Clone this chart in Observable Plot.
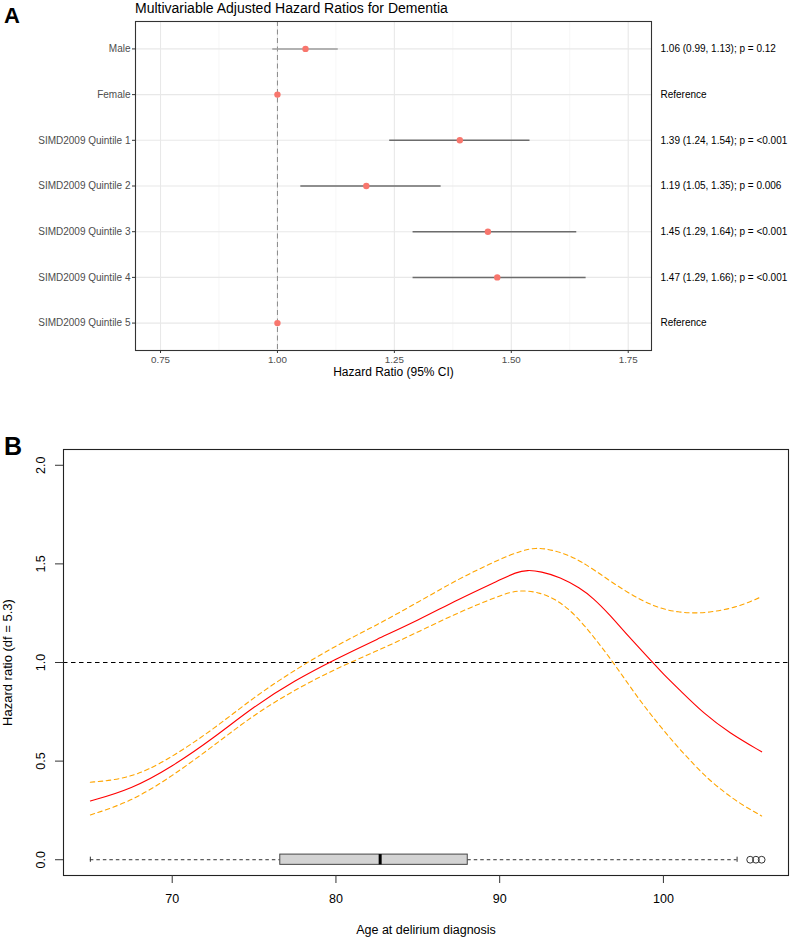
<!DOCTYPE html>
<html>
<head>
<meta charset="utf-8">
<script src="https://cdn.jsdelivr.net/npm/d3@7"></script>
<script src="https://cdn.jsdelivr.net/npm/@observablehq/plot@0.6"></script>
<style>
  body { margin: 0; background: #fff; }
  #wrap { position: relative; width: 792px; height: 942px; overflow: hidden; background: #fff;
          font-family: "Liberation Sans", Arial, Helvetica, sans-serif; color: #000; }
  .abs { position: absolute; white-space: nowrap; }
  .letter { font-weight: bold; line-height: 1; }
</style>
</head>
<body>
<div id="wrap">
  <div id="chartA" class="abs" style="left:0;top:0"></div>
  <div id="chartB" class="abs" style="left:0;top:400px"></div>
  <div class="abs letter" style="left:4px;top:5px;font-size:22px">A</div>
  <div class="abs" style="left:135px;top:1px;font-size:14px;line-height:1">Multivariable Adjusted Hazard Ratios for Dementia</div>
  <div class="abs letter" style="left:4px;top:434px;font-size:25px">B</div>
</div>
<script>
// ---------- Panel A data ----------
const rowLabels = ["Male", "Female", "SIMD2009 Quintile 1", "SIMD2009 Quintile 2",
                   "SIMD2009 Quintile 3", "SIMD2009 Quintile 4", "SIMD2009 Quintile 5"];
const estimates = [1.06, 1.00, 1.39, 1.19, 1.45, 1.47, 1.00];
const lowerCI   = [0.99, null, 1.24, 1.05, 1.29, 1.29, null];
const upperCI   = [1.13, null, 1.54, 1.35, 1.64, 1.66, null];
const annotations = ["1.06 (0.99, 1.13); p = 0.12", "Reference",
                     "1.39 (1.24, 1.54); p = <0.001", "1.19 (1.05, 1.35); p = 0.006",
                     "1.45 (1.29, 1.64); p = <0.001", "1.47 (1.29, 1.66); p = <0.001", "Reference"];
const hrTicks = [0.75, 1.00, 1.25, 1.50, 1.75];
const hrMinorTicks = [0.875, 1.125, 1.375, 1.625];

// ---------- Panel B data ----------
const hrAges   = [65, 67.5, 70, 72.5, 75, 77.5, 80, 82.5, 85, 87.5, 90, 91, 91.7, 92.5, 93.7, 94.9, 95.7, 96.75, 97.8, 99.35, 100, 100.9, 102.5, 104, 106];
const hrValues = [0.298, 0.357, 0.472, 0.615, 0.778, 0.910, 1.018, 1.118, 1.213, 1.322, 1.418, 1.458, 1.469, 1.462, 1.433, 1.378, 1.328, 1.240, 1.138, 1.000, 0.940, 0.868, 0.738, 0.645, 0.547];
const upperAges   = [65, 66.3, 67.5, 68.5, 70, 72.5, 75, 77.5, 80, 82.5, 85, 87.5, 90, 91.3, 92.2, 93.2, 94.3, 95, 95.8, 96.8, 97.8, 98.9, 99.9, 100.9, 101.9, 102.9, 104, 105, 106];
const upperValues = [0.393, 0.402, 0.424, 0.455, 0.522, 0.660, 0.825, 0.963, 1.086, 1.190, 1.305, 1.425, 1.524, 1.566, 1.583, 1.572, 1.541, 1.510, 1.468, 1.410, 1.356, 1.305, 1.272, 1.255, 1.250, 1.255, 1.272, 1.297, 1.334];
const lowerAges   = [65, 67.5, 70, 72.5, 75, 77.5, 80, 82.5, 85, 87.5, 90, 91.1, 92.5, 93.65, 94.66, 95.68, 96.7, 97.7, 98.7, 99.75, 100.77, 101.8, 102.8, 103.8, 104.8, 106];
const lowerValues = [0.227, 0.295, 0.424, 0.576, 0.736, 0.862, 0.969, 1.058, 1.154, 1.255, 1.339, 1.369, 1.356, 1.310, 1.238, 1.137, 1.027, 0.909, 0.792, 0.682, 0.581, 0.488, 0.404, 0.337, 0.278, 0.222];
const ageBox = {whiskerLow: 65, q1: 76.6, median: 82.7, q3: 88.05, whiskerHigh: 104.5};
const ageOutliers = [105.3, 105.65, 106];
const ageTicks = [70, 80, 90, 100];
const ratioTicks = [0.0, 0.5, 1.0, 1.5, 2.0];

// ---------- Panel A ----------
const rows = rowLabels.map((label, i) => ({
  label, est: estimates[i], lo: lowerCI[i], hi: upperCI[i], note: annotations[i]
}));
const fmt2 = d3.format(".2f");

const plotA = Plot.plot({
  width: 792, height: 392,
  marginLeft: 135, marginRight: 141, marginTop: 21, marginBottom: 42,
  style: { fontFamily: "Liberation Sans, Arial, sans-serif", fontSize: "9.8px", background: "white", overflow: "visible" },
  x: { domain: [0.6965, 1.7998], label: null },
  y: { type: "point", domain: rowLabels, padding: 0.6, round: false, label: null },
  marks: [
    Plot.ruleX(hrMinorTicks, { x: d => d, stroke: "#f0f0f0", strokeWidth: 0.6 }),
    Plot.ruleX(hrTicks, { x: d => d, stroke: "#e8e8e8", strokeWidth: 1.1 }),
    Plot.ruleY(rowLabels, { y: d => d, stroke: "#e8e8e8", strokeWidth: 1.1 }),
    Plot.ruleX([1], { x: d => d, stroke: "#8a8a8a", strokeWidth: 1, strokeDasharray: "5,3.5" }),
    Plot.ruleY(rows.filter(d => d.lo != null), {
      y: "label", x1: "lo", x2: "hi",
      stroke: d => (d.lo > 1 ? "#6c6c6c" : "#9c9c9c"), strokeWidth: 1.5
    }),
    Plot.dot(rows, { x: "est", y: "label", r: 3.2, fill: "#F8766D", stroke: "none" }),
    Plot.frame({ stroke: "#333", strokeWidth: 1.1 }),
    Plot.axisX(hrTicks, { tickSize: 3, tickPadding: 3, stroke: "#333", fill: "#4d4d4d", tickFormat: fmt2, label: null, fontSize: 9.8 }),
    Plot.axisY(rowLabels, { tickSize: 3, tickPadding: 2, stroke: "#333", fill: "#4d4d4d", label: null, fontSize: 10 }),
    Plot.text(rows, { y: "label", text: "note", frameAnchor: "right", dx: 9, textAnchor: "start", fill: "#000", fontSize: 10 }),
    Plot.text(["Hazard Ratio (95% CI)"], { text: d => d, frameAnchor: "bottom", dy: 25, fill: "#000", fontSize: 12 })
  ]
});
document.getElementById("chartA").appendChild(plotA);

// ---------- Panel B ----------
const hrLine = hrAges.map((a, i) => ({ age: a, v: hrValues[i] }));
const upLine = upperAges.map((a, i) => ({ age: a, v: upperValues[i] }));
const loLine = lowerAges.map((a, i) => ({ age: a, v: lowerValues[i] }));
const whiskers = [
  { a: ageBox.whiskerLow, b: ageBox.q1 },
  { a: ageBox.q3, b: ageBox.whiskerHigh }
];
const fmt1 = d3.format(".1f");

const plotB = Plot.plot({
  width: 792, height: 542,
  marginLeft: 63, marginRight: 4, marginTop: 49, marginBottom: 67,
  style: { fontFamily: "Liberation Sans, Arial, sans-serif", fontSize: "12.5px", background: "white", overflow: "visible" },
  x: { domain: [63.36, 107.64], label: null },
  y: { domain: [-0.08, 2.08], label: null },
  marks: [
    Plot.ruleY([1], { y: d => d, stroke: "#000", strokeWidth: 1, strokeDasharray: "4.5,3.5" }),
    Plot.line(upLine, { x: "age", y: "v", curve: "basis", stroke: "#FFA500", strokeWidth: 1.1, strokeDasharray: "4.5,3.5" }),
    Plot.line(loLine, { x: "age", y: "v", curve: "basis", stroke: "#FFA500", strokeWidth: 1.1, strokeDasharray: "4.5,3.5" }),
    Plot.line(hrLine, { x: "age", y: "v", curve: "basis", stroke: "#FF0000", strokeWidth: 1.1 }),
    // boxplot of ages at y = 0
    Plot.ruleY(whiskers, { y: () => 0, x1: "a", x2: "b", stroke: "#333", strokeWidth: 1, strokeDasharray: "3.5,3" }),
    Plot.ruleX([ageBox.whiskerLow, ageBox.whiskerHigh], { x: d => d, y1: -0.013, y2: 0.013, stroke: "#333", strokeWidth: 1 }),
    Plot.rect([ageBox], { x1: "q1", x2: "q3", y1: () => -0.026, y2: () => 0.026, fill: "#D3D3D3", stroke: "#444", strokeWidth: 1 }),
    Plot.ruleX([ageBox.median], { x: d => d, y1: -0.026, y2: 0.026, stroke: "#000", strokeWidth: 3 }),
    Plot.dot(ageOutliers, { x: d => d, y: () => 0, r: 3.4, stroke: "#333", fill: "none", strokeWidth: 1 }),
    Plot.frame({ stroke: "#222", strokeWidth: 1.1 }),
    Plot.axisX(ageTicks, { tickSize: 8, tickPadding: 11, stroke: "#333", fill: "#000", label: null, fontSize: 12.5 }),
    Plot.axisY(ratioTicks, { tickSize: 8, stroke: "#333", tickFormat: () => "", label: null }),
    Plot.text(ratioTicks, { y: d => d, text: d => fmt1(d), frameAnchor: "left", dx: -23, rotate: -90, textAnchor: "middle", fill: "#000", fontSize: 12.5 }),
    Plot.text(["Hazard ratio (df = 5.3)"], { text: d => d, frameAnchor: "left", dx: -56, rotate: -90, textAnchor: "middle", fill: "#000", fontSize: 13 }),
    Plot.text(["Age at delirium diagnosis"], { text: d => d, frameAnchor: "bottom", dy: 58, fill: "#000", fontSize: 12.5 })
  ]
});
document.getElementById("chartB").appendChild(plotB);
</script>
</body>
</html>
